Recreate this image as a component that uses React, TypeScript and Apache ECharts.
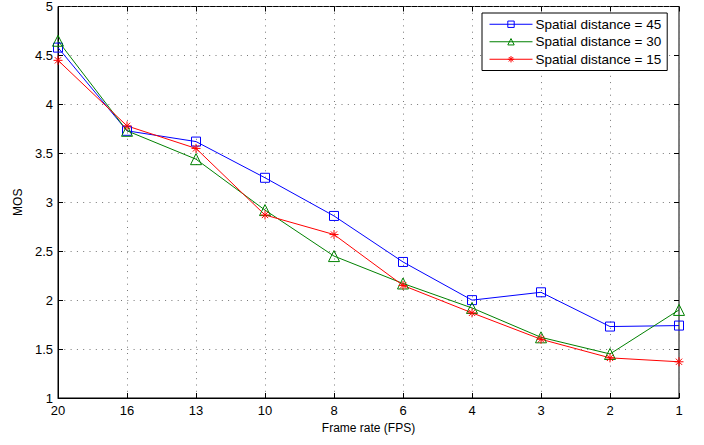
import React, { useEffect, useRef } from "react";
import * as echarts from "echarts";

const categories = ["20", "16", "13", "10", "8", "6", "4", "3", "2", "1"];
const sd45 = [4.58, 3.73, 3.62, 3.25, 2.86, 2.39, 2.0, 2.08, 1.73, 1.74];
const sd30 = [4.65, 3.73, 3.44, 2.92, 2.45, 2.17, 1.92, 1.62, 1.45, 1.9];
const sd15 = [4.45, 3.78, 3.55, 2.87, 2.67, 2.15, 1.87, 1.6, 1.41, 1.37];
const seriesNames = ["Spatial distance = 45", "Spatial distance = 30", "Spatial distance = 15"];

const FONT = "Liberation Sans, Arial, Helvetica, sans-serif";
const star = "path://M0,-5L0,5M-5,0L5,0M-3.5,-3.5L3.5,3.5M-3.5,3.5L3.5,-3.5";

export default function App() {
  const ref = useRef<HTMLDivElement>(null);
  useEffect(() => {
    if (!ref.current) return;
    const chart = echarts.init(ref.current, undefined, { renderer: "svg" });
    const gridLine = { show: true, lineStyle: { color: "#777", type: [1, 5.3] as any, width: 1 } };
    const mk = (name: string, data: number[], color: string, symbol: string, size: number) => ({
      name,
      type: "line",
      data,
      color,
      symbol,
      symbolSize: size,
      showAllSymbol: true,
      lineStyle: { color, width: 1 },
      itemStyle: { color: "rgba(0,0,0,0)", borderColor: color, borderWidth: 1 },
      emphasis: { disabled: true },
    });
    chart.setOption({
      animation: false,
      backgroundColor: "#fff",
      textStyle: { fontFamily: FONT },
      grid: { left: 58, right: 25, top: 6, bottom: 47, show: true, borderColor: "#000", borderWidth: 1 },
      legend: {
        orient: "vertical",
        left: 482,
        top: 13,
        padding: [3, 6, 3, 7],
        itemGap: 1,
        itemWidth: 43,
        itemHeight: 8,
        borderColor: "#000",
        borderWidth: 1,
        backgroundColor: "#fff",
        lineStyle: { width: 1 },
        itemStyle: { borderWidth: 1 },
        textStyle: { fontFamily: FONT, fontSize: 13.5, color: "#000", padding: [0, 0, 0, -2], lineHeight: 16.5 },
        data: seriesNames,
      },
      xAxis: [
        {
          type: "category",
          data: categories,
          boundaryGap: false,
          name: "Frame rate (FPS)",
          nameLocation: "middle",
          nameGap: 24,
          nameTextStyle: { fontFamily: FONT, fontSize: 12, color: "#000" },
          axisLine: { lineStyle: { color: "#000", width: 1 } },
          axisTick: { inside: true, length: 5, lineStyle: { color: "#000" } },
          axisLabel: { color: "#000", fontSize: 13, fontFamily: FONT, margin: 6 },
          splitLine: gridLine,
        },
        {
          type: "category",
          data: categories,
          boundaryGap: false,
          position: "top",
          axisLine: { show: false },
          axisTick: { inside: true, length: 5, lineStyle: { color: "#000" } },
          axisLabel: { show: false },
          splitLine: { show: false },
        },
      ],
      yAxis: [
        {
          type: "value",
          min: 1,
          max: 5,
          interval: 0.5,
          name: "MOS",
          nameLocation: "middle",
          nameGap: 32,
          nameTextStyle: { fontFamily: FONT, fontSize: 12, color: "#000" },
          axisLine: { show: true, lineStyle: { color: "#000", width: 1 } },
          axisTick: { show: true, inside: true, length: 5, lineStyle: { color: "#000" } },
          axisLabel: { color: "#000", fontSize: 13, fontFamily: FONT, margin: 5 },
          splitLine: gridLine,
        },
        {
          type: "value",
          min: 1,
          max: 5,
          interval: 0.5,
          position: "right",
          axisLine: { show: false },
          axisTick: { show: true, inside: true, length: 5, lineStyle: { color: "#000" } },
          axisLabel: { show: false },
          splitLine: { show: false },
        },
      ],
      series: [
        mk(seriesNames[0], sd45, "#0000ff", "rect", 9),
        mk(seriesNames[1], sd30, "#008000", "triangle", 11),
        mk(seriesNames[2], sd15, "#ff0000", star, 9),
      ],
    });
    return () => chart.dispose();
  }, []);
  return <div ref={ref} style={{ width: 704, height: 445, position: "absolute", left: 0, top: 0 }} />;
}
